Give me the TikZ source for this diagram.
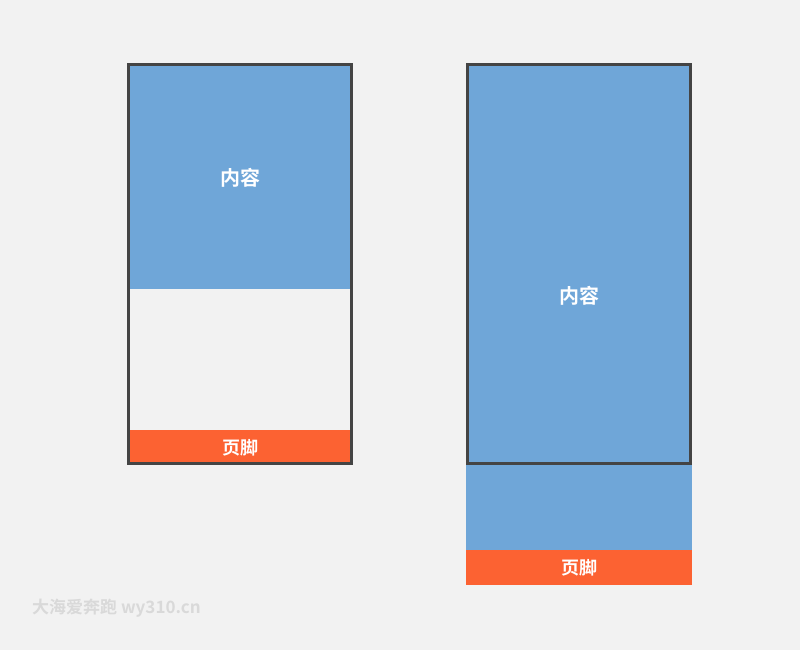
\documentclass[tikz,border=0pt]{standalone}
\usepackage{fontspec}
\newfontfamily\cjk{Noto Sans CJK SC}[BoldFont={* Bold}]
\definecolor{bgGray}{HTML}{F2F2F2}
\definecolor{contentBlue}{HTML}{6FA6D8}
\definecolor{footerOrange}{HTML}{FC6232}
\definecolor{frameGray}{HTML}{444444}
\definecolor{markGray}{HTML}{D9D9D9}
\begin{document}
\begin{tikzpicture}[x=1pt, y=-1pt,
    contentStyle/.style={fill=contentBlue, inner sep=0pt, minimum width=226pt},
    labelStyle/.style={text=white, font=\cjk\bfseries\fontsize{20}{22}\selectfont},
    footerStyle/.style={fill=footerOrange, inner sep=0pt, minimum width=226pt, minimum height=35pt, text=white, font=\cjk\bfseries\fontsize{18}{20}\selectfont},
    frameStyle/.style={draw=frameGray, line width=3.2pt}]
    \fill[bgGray] (0, 0) rectangle (800, 650);
    \useasboundingbox (0, 0) rectangle (800, 650);

    % left: footer at the bottom of the frame
    \node[contentStyle, minimum height=226pt](leftContent) at (240, 176) {};
    \node[labelStyle](leftText) at (240, 178) {内容};
    \node[footerStyle](leftFooter) at (240, 447.5) {页脚};
    \draw[frameStyle] (128.5, 64.5) rectangle (351.5, 463.5);

    % right: content pushes the footer out
    \node[contentStyle, minimum height=487pt](rightContent) at (579, 306.5) {};
    \node[labelStyle](rightText) at (579, 296) {内容};
    \node[footerStyle](rightFooter) at (579, 567.5) {页脚};
    \draw[frameStyle] (467.5, 64.5) rectangle (690.5, 463.5);

    \node[anchor=west, inner sep=0pt, text=markGray, font=\cjk\bfseries\fontsize{17}{19}\selectfont](watermark) at (32, 608) {大海爱奔跑 wy310.cn};
\end{tikzpicture}
\end{document}
